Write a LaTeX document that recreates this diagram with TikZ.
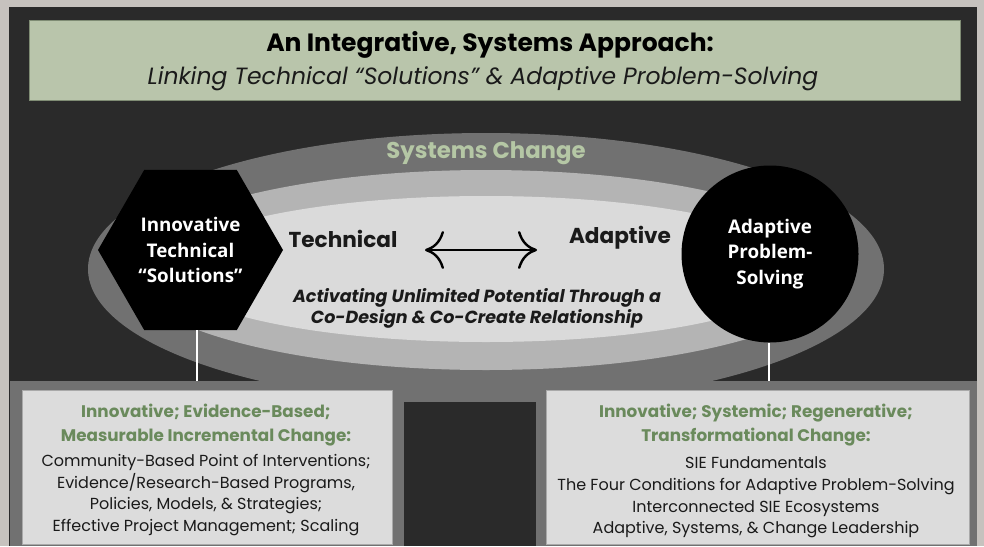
\documentclass[tikz,border=0pt]{standalone}
\usepackage{fontspec}
\setmainfont{Poppins}
\newfontfamily\osans{Open Sans}
\usetikzlibrary{shapes.geometric,arrows.meta}
\definecolor{edgegray}{HTML}{C6C2BE}
\definecolor{panel}{HTML}{2A2A2A}
\definecolor{titlegreen}{HTML}{B9C5AB}
\definecolor{titleedge}{HTML}{7F8C74}
\definecolor{outerg}{HTML}{717171}
\definecolor{midg}{HTML}{B4B4B4}
\definecolor{innerg}{HTML}{DADADA}
\definecolor{sysgreen}{HTML}{B5C7A5}
\definecolor{headgreen}{HTML}{6A8A5C}
\definecolor{boxfill}{HTML}{DCDCDC}
\definecolor{boxedge}{HTML}{A9A9A9}
\definecolor{ink}{HTML}{1A1A1A}
\tikzset{
  shapenode/.style={fill=black,draw=none,text=white,align=center,inner sep=0pt,
    font=\osans\bfseries\fontsize{18.8}{25.5}\selectfont},
  bigword/.style={text=ink,inner sep=0pt,font=\bfseries\fontsize{21.6}{24}\selectfont},
  headtext/.style={text=headgreen,align=center,inner sep=0pt,font=\bfseries\fontsize{16.8}{24}\selectfont},
  bodytext/.style={text=ink,align=center,inner sep=0pt,font=\fontsize{16}{21.7}\selectfont},
  infobox/.style={fill=boxfill,draw=boxedge,line width=0.8pt},
  stem/.style={draw=white,line width=1.3pt},
  dblarrow/.style={draw=black,line width=2.6pt,
    {Computer Modern Rightarrow[length=19pt,width=38pt,line width=2.4pt]}-{Computer Modern Rightarrow[length=19pt,width=38pt,line width=2.4pt]}}
}
\begin{document}
\begin{tikzpicture}[x=1pt,y=-1pt]
\useasboundingbox (0,0) rectangle (984,546);
% background
\fill[edgegray] (0,0) rectangle (984,546);
\fill[panel] (9,7) rectangle (977,546);
% title
\node[fill=titlegreen,draw=titleedge,line width=0.8pt,minimum width=931pt,minimum height=80pt,inner sep=0pt] (title) at (494.5,60) {};
\node[text=black,inner sep=0pt,font=\bfseries\fontsize{25}{28}\selectfont] (t1) at (490,45) {An Integrative, Systems Approach:};
\node[text=ink,inner sep=0pt,font=\itshape\fontsize{23.5}{28}\selectfont] (t2) at (483,79) {Linking Technical “Solutions” \& Adaptive Problem-Solving};
% bottom band
\fill[outerg] (10,381) rectangle (977,546);
% ellipses
\fill[outerg] (486,269) ellipse [x radius=398, y radius=136];
\fill[midg] (486,270) ellipse [x radius=360, y radius=100];
\fill[innerg] (486,269) ellipse [x radius=320, y radius=73];
% dark column
\fill[panel] (404,402) rectangle (536,546);
% system change label
\node[text=sysgreen,inner sep=0pt,font=\bfseries\fontsize{22.8}{26}\selectfont] (sys) at (486,153) {Systems Change};
% words and arrow
\node[bigword] (tech) at (343,239) {Technical};
\node[bigword] (adap) at (620,238) {Adaptive};
\coordinate (al) at (425,250);
\coordinate (ar) at (537,250);
\draw[dblarrow] (al) -- (ar);
\node[text=ink,align=center,inner sep=0pt,font=\bfseries\itshape\fontsize{17.5}{21}\selectfont] (act) at (477,308) {Activating Unlimited Potential Through a\\Co-Design \& Co-Create Relationship};
% hexagon and circle
\node[shapenode,regular polygon,regular polygon sides=6,minimum size=185pt] (hex) at (190.5,250) {Innovative\\Technical\\“Solutions”};
\node[shapenode,circle,minimum size=177pt] (circ) at (770,254) {Adaptive\\Problem-\\Solving};
% stems
\coordinate (lb) at (197,381);
\coordinate (rb) at (769,381);
\draw[stem] (hex.south -| lb) -- (lb);
\draw[stem] (circ.south -| rb) -- (rb);
% boxes
\node[infobox,minimum width=370pt,minimum height=154pt,inner sep=0pt] (lbox) at (207,467) {};
\node[infobox,minimum width=423pt,minimum height=154pt,inner sep=0pt] (rbox) at (757.5,467) {};
\node[headtext] (lhead) at (206,425) {Innovative; Evidence-Based;\\Measurable Incremental Change:};
\node[bodytext] (lbody) at (206,495) {Community-Based Point of Interventions;\\Evidence/Research-Based Programs,\\Policies, Models, \& Strategies;\\Effective Project Management; Scaling};
\node[headtext] (rhead) at (756,425) {Innovative; Systemic; Regenerative;\\Transformational Change:};
\node[bodytext] (rbody) at (756,497.5) {SIE Fundamentals\\The Four Conditions for Adaptive Problem-Solving\\Interconnected SIE Ecosystems\\Adaptive, Systems, \& Change Leadership};
\end{tikzpicture}
\end{document}
